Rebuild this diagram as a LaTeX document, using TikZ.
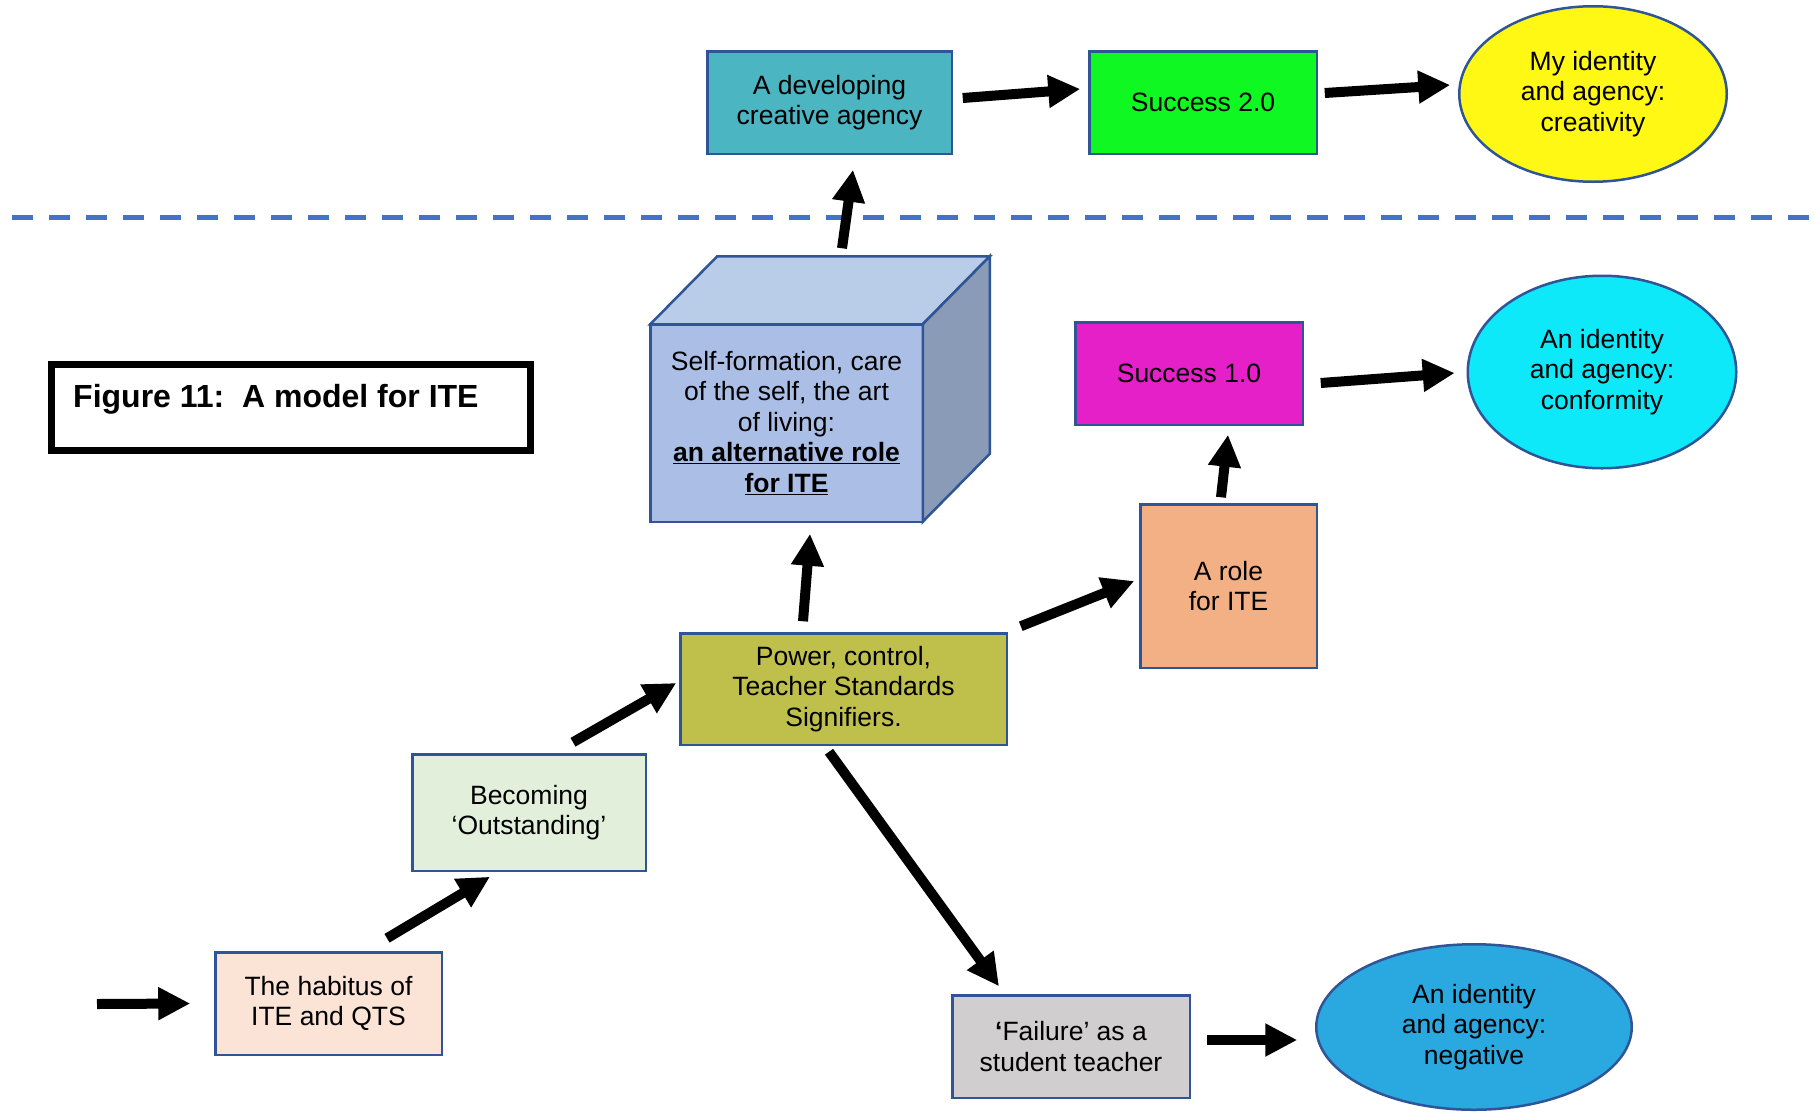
\documentclass[tikz,border=0pt]{standalone}
\usepackage{fontspec}
\setmainfont{Liberation Sans}
\usetikzlibrary{arrows.meta,shapes.geometric}

\definecolor{edgeblue}{HTML}{2F5597}
\definecolor{divblue}{HTML}{4472C4}
\definecolor{tealfill}{HTML}{4BB5C1}
\definecolor{greenfill}{HTML}{10F822}
\definecolor{yellowfill}{HTML}{FFF714}
\definecolor{cubefront}{HTML}{ABBFE6}
\definecolor{cubetop}{HTML}{B9CCE8}
\definecolor{cubeside}{HTML}{8A9BB8}
\definecolor{magentafill}{HTML}{E620C8}
\definecolor{cyanfill}{HTML}{0DE9F9}
\definecolor{rolefill}{HTML}{F2B084}
\definecolor{powerfill}{HTML}{BFBF4B}
\definecolor{becomefill}{HTML}{E2EFDA}
\definecolor{habitusfill}{HTML}{FBE4D6}
\definecolor{failfill}{HTML}{D0CECE}
\definecolor{negfill}{HTML}{29A9E0}

\tikzset{
  base/.style={draw=edgeblue, line width=2.5pt, inner sep=0pt, outer sep=0pt,
    align=center, font=\fontsize{26.5}{30.5}\selectfont},
  box/.style={base, rectangle},
  oval/.style={base, ellipse},
  cubeface/.style={draw=edgeblue, line width=2.5pt},
  arr/.style={line width=10pt, -{Triangle[length=32pt,width=31pt]}},
  divider/.style={draw=divblue, line width=5pt, dash pattern=on 21pt off 16pt},
}

\begin{document}
\begin{tikzpicture}[x=1pt,y=-1pt]
\useasboundingbox (0,0) rectangle (1814,1111);

% upper tier: creative agency
\node[box, fill=tealfill, minimum width=244.5pt, minimum height=102.5pt] (teal) at (829.5,102.5) {A developing\\creative agency};
\node[box, fill=greenfill, minimum width=227.5pt, minimum height=102.5pt] (success2) at (1203,102.5) {Success 2.0};
\node[oval, fill=yellowfill, minimum width=267.5pt, minimum height=175.5pt] (creat) at (1593,94) {My identity\\and agency:\\creativity};

% divider
\coordinate (divL) at (12,217);
\coordinate (divR) at (1814,217);
\draw[divider] (divL) -- (divR);

% title
\node[draw=black, line width=7pt, outer sep=0pt, minimum width=479pt, minimum height=86pt] (fig) at (291,407.5) {};
\node[anchor=base west, inner sep=0pt, font=\fontsize{32}{37}\selectfont\bfseries] (figtitle) at (73,407.5)
  {Figure 11:\ \ A model for ITE};

% the cube
\node[box, fill=cubefront, minimum width=272.5pt, minimum height=197.5pt] (cube) at (786.5,423)
  {Self-formation, care\\of the self, the art\\of living:\\\underline{\textbf{an alternative role}}\\\underline{\textbf{for ITE}}};
\draw[cubeface, fill=cubetop] (cube.north west) -- ++(67,-68) -- ++(272.5,0) -- (cube.north east) -- cycle;
\draw[cubeface, fill=cubeside] (cube.north east) -- ++(67,-68) -- ++(0,197.5) -- (cube.south east) -- cycle;

% conformity branch
\node[box, fill=magentafill, minimum width=227.5pt, minimum height=102.5pt] (success1) at (1189,373.5) {Success 1.0};
\node[oval, fill=cyanfill, minimum width=268.5pt, minimum height=192.5pt] (conform) at (1602,372) {An identity\\and agency:\\conformity};
\node[box, fill=rolefill, minimum width=176.5pt, minimum height=163.5pt] (role) at (1228.5,586) {A role\\for ITE};

% lower path
\node[box, fill=powerfill, minimum width=326.5pt, minimum height=111.5pt] (power) at (843.5,689) {Power, control,\\Teacher Standards\\Signifiers.};
\node[box, fill=becomefill, minimum width=233.5pt, minimum height=116.5pt] (becoming) at (529,812.5) {Becoming\\‘Outstanding’};
\node[box, fill=habitusfill, minimum width=226.5pt, minimum height=102.5pt] (habitus) at (328.5,1003.5) {The habitus of\\ITE and QTS};
\node[box, fill=failfill, minimum width=237.5pt, minimum height=102.5pt] (failure) at (1071,1046.5) {{\bfseries ‘}Failure’ as a\\student teacher};
\node[oval, fill=negfill, minimum width=315.5pt, minimum height=165.5pt] (negative) at (1474,1027) {An identity\\and agency:\\negative};

% connectors
\coordinate (entry) at (97,1004);
\draw[arr] (entry) -- ([shift={(-25,0)}]habitus.west);
\draw[arr] ([shift={(58.5,-14)}]habitus.north) -- ([shift={(-39,6)}]becoming.south);
\draw[arr] ([shift={(44,-12)}]becoming.north) -- ([shift={(-4,-6)}]power.west);
\draw[arr] ([shift={(-40.5,-12)}]power.north) -- ([shift={(23.5,12)}]cube.south);
\draw[arr] ([shift={(55.5,-76)}]cube.north) -- ([shift={(23.5,16)}]teal.south);
\draw[arr] ([shift={(11,-4.5)}]teal.east) -- ([shift={(-9,-13.5)}]success2.west);
\draw[arr] ([shift={(8,-9.5)}]success2.east) -- ([shift={(-9,-9)}]creat.west);
\draw[arr] ([shift={(14,-7)}]power.north east) -- ([shift={(-6,-5)}]role.west);
\draw[arr] ([shift={(-7.5,-7)}]role.north) -- ([shift={(39,10)}]success1.south);
\draw[arr] ([shift={(18,9.5)}]success1.east) -- ([shift={(-13,1)}]conform.west);
\draw[arr] ([shift={(-14.5,7)}]power.south) -- ([shift={(-72,-9)}]failure.north);
\draw[arr] ([shift={(17,-6.5)}]failure.east) -- ([shift={(-19,13)}]negative.west);
\end{tikzpicture}
\end{document}
